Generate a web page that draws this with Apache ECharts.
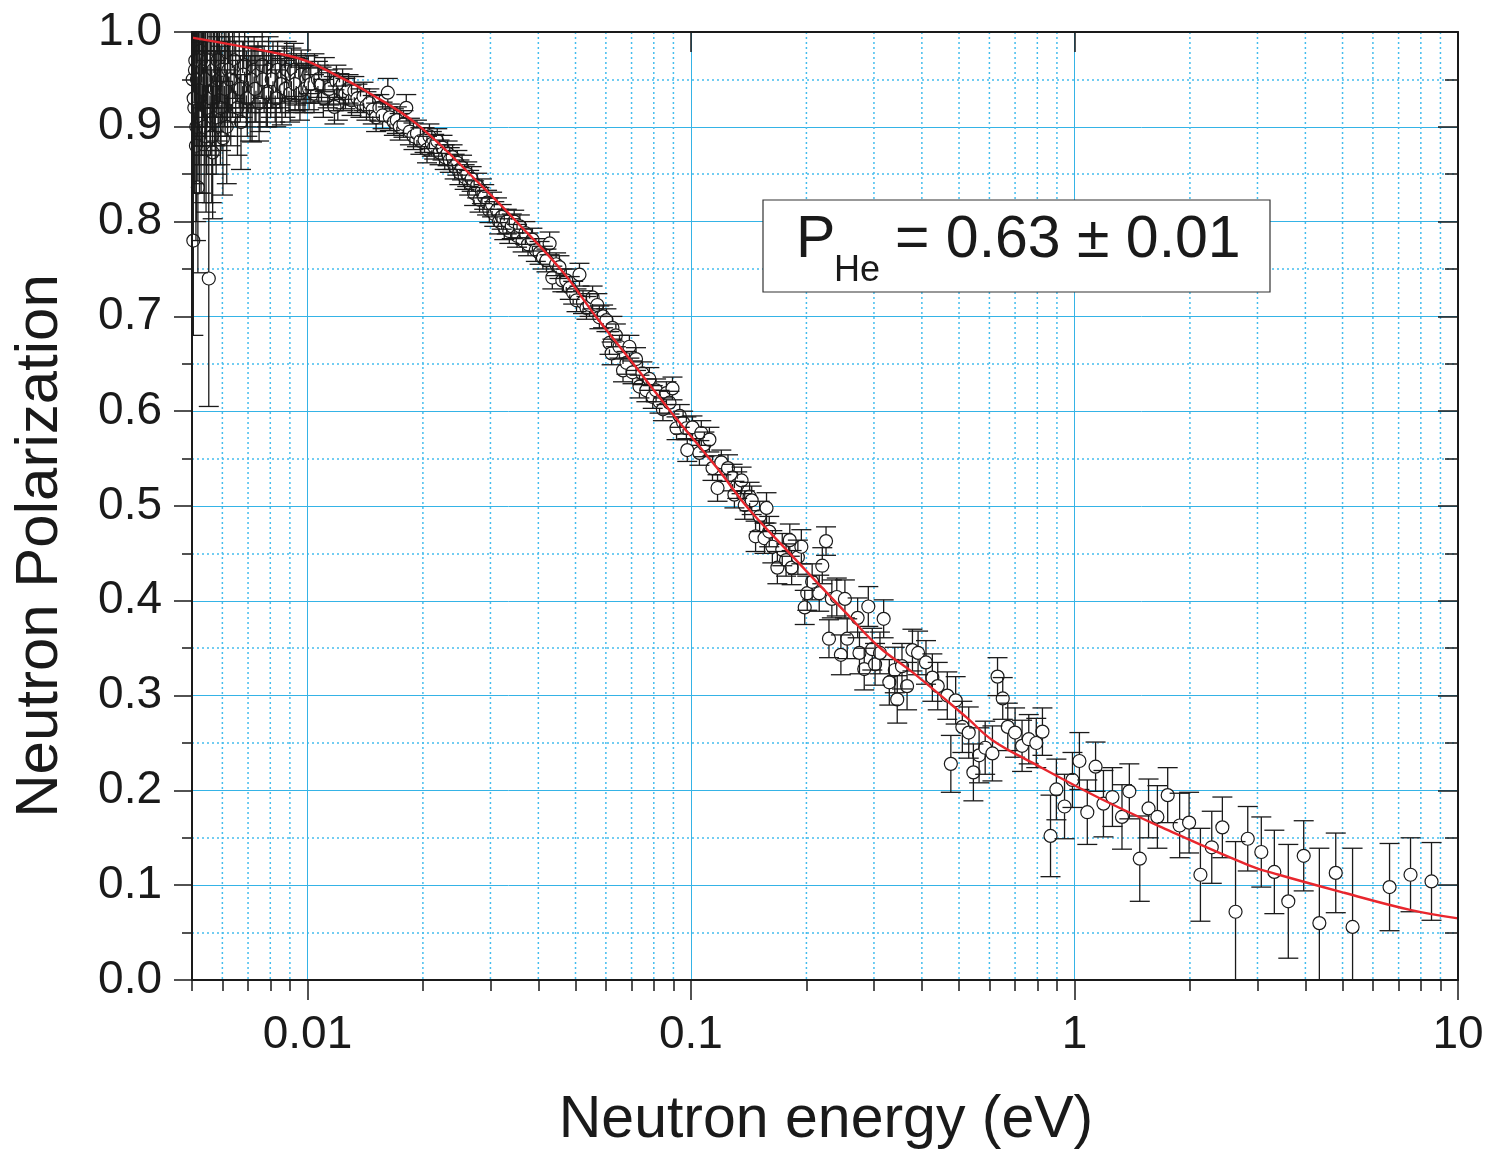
<!DOCTYPE html>
<html><head><meta charset="utf-8">
<script src="https://cdn.jsdelivr.net/npm/echarts@6/dist/echarts.min.js"></script>
<style>html,body{margin:0;padding:0;background:#fff}#c{width:1488px;height:1155px}</style>
</head><body><div id="c"></div>
<script>
// Neutron energy (eV)
const energy = [
0.00502,0.00504,0.00507,0.0051,0.00513,0.00516,0.00518,0.00521,0.00525,0.00528,0.00532,0.00536,0.0054,0.00544,0.00548,0.00553,0.00557,0.00561,0.00566,0.0057,
0.00575,0.0058,0.00585,0.0059,0.00595,0.00602,0.00607,0.00613,0.00619,0.00625,0.00631,0.00638,0.00644,0.0065,0.00657,0.00664,0.00671,0.00678,0.00686,0.00693,
0.00701,0.00709,0.00717,0.00726,0.00734,0.00743,0.00752,0.00762,0.00771,0.00781,0.00792,0.00802,0.00813,0.00824,0.00836,0.00847,0.00858,0.0087,0.00883,0.00895,
0.00908,0.00921,0.00935,0.00949,0.00963,0.00974,0.00992,
0.00505,0.00509,0.00512,0.00515,0.0052,0.00523,0.0053,0.00534,0.00538,0.00542,0.00546,0.0055,0.00559,0.00563,0.00568,0.00573,0.00578,0.00583,0.00588,0.00593,
0.00598,0.0061,0.00616,0.00622,0.00628,
0.00668,0.00682,0.00697,0.00713,0.0073,0.00748,0.00766,0.00786,0.00807,0.00829,0.00852,0.00876,0.00901,0.00928,0.00956,0.00985,
0.0101,0.0104,0.0107,0.011,0.0113,0.0117,0.012,0.0124,
0.01005,0.0102,0.01043,0.01065,0.01088,0.0111,0.01141,0.01176,0.0119,0.01212,0.01235,0.01256,0.0128,0.01303,0.01325,0.0135,0.01375,0.014,0.01425,0.0145,
0.0148,0.0151,0.0154,0.0157,0.0162,0.0164,0.0168,0.0171,0.0174,0.0178,0.0181,0.0185,0.0189,0.0193,0.0197,
0.0202,0.0205,0.0208,0.0211,0.0214,0.0218,0.0221,0.0225,0.0228,0.0232,0.0235,0.0239,0.0242,0.0246,0.0249,0.0253,0.0257,0.0261,0.0264,0.0268,
0.0272,0.0277,0.0281,0.0285,0.0289,0.0294,0.0298,0.0303,0.0307,0.0312,0.0316,0.0321,0.0326,0.0331,0.0336,0.0341,
0.0346,0.0352,0.0358,0.0364,0.037,0.0376,0.0386,0.0394,0.0403,0.0411,0.042,0.0428,0.0435,0.0445,0.0454,0.0462,0.0473,0.0483,0.0493,0.0503,
0.0512,0.0523,0.0534,0.0544,0.0554,0.057,0.0577,0.059,0.0602,0.0613,0.0621,0.0624,0.0637,0.0651,0.0665,0.0679,0.0691,0.0704,0.0719,0.0734,
0.0747,0.0765,0.0779,0.0795,0.0811,0.0828,0.0845,0.0863,0.0879,0.0895,0.0917,0.0935,0.0954,0.0973,0.0978,0.1009,
0.1052,0.1064,0.1084,0.1117,0.1138,0.1173,0.120,0.1249,0.1284,0.1298,0.132,0.1355,0.1381,0.1422,0.144,0.1474,0.151,0.1555,0.1574,0.160,
0.163,0.168,0.173,0.177,0.181,0.183,0.190,0.194,0.198,0.201,0.207,0.216,0.220,0.225,0.229,0.233,0.240,0.246,0.252,0.2555,
0.272,0.275,0.283,0.290,0.297,0.302,0.311,0.318,0.329,0.340,0.345,0.355,0.366,0.378,0.391,0.41,0.426,0.44,0.466,0.476,
0.49,0.51,0.53,0.545,0.564,0.585,0.611,0.63,0.65,0.67,0.70,0.73,0.76,0.795,0.825,
0.866,0.897,0.942,0.988,1.03,1.08,1.135,1.19,1.256,1.33,1.39,1.48,1.56,1.645,1.75,1.88,1.99,2.13,2.28,2.43,
2.63,2.83,3.07,3.32,3.61,3.96,4.35,4.80,5.31,6.63,7.52,8.53
];
// Neutron polarization
const polarization = [
0.95,0.78,0.92,0.97,0.90,0.96,0.836,0.94,0.98,0.91,0.95,0.97,0.93,0.89,0.96,0.74,0.94,0.97,0.873,0.95,
0.92,0.96,0.94,0.97,0.93,0.888,0.95,0.965,0.94,0.96,0.93,0.955,0.97,0.945,0.92,0.96,0.905,0.95,0.965,0.94,
0.955,0.93,0.934,0.96,0.945,0.955,0.935,0.965,0.95,0.94,0.96,0.945,0.955,0.94,0.96,0.95,0.937,0.955,0.96,0.945,
0.955,0.96,0.95,0.945,0.955,0.941,0.95,
0.93,0.96,0.88,0.95,0.97,0.91,0.94,0.96,0.90,0.95,0.92,0.97,0.93,0.89,0.96,0.94,0.91,0.97,0.95,0.92,
0.96,0.94,0.90,0.96,0.95,
0.94,0.955,0.93,0.95,0.94,0.925,0.95,0.935,0.95,0.93,0.945,0.94,0.935,0.945,0.935,0.94,
0.94,0.935,0.945,0.93,0.94,0.935,0.925,0.935,
0.955,0.945,0.958,0.95,0.945,0.955,0.94,0.921,0.948,0.94,0.945,0.935,0.94,0.928,0.938,0.93,0.925,0.932,0.922,0.925,
0.918,0.91,0.92,0.912,0.936,0.91,0.905,0.907,0.90,0.903,0.92,0.895,0.89,0.893,0.885,
0.886,0.876,0.89,0.882,0.879,0.885,0.873,0.878,0.868,0.872,0.865,0.868,0.858,0.862,0.852,0.857,0.847,0.85,0.841,0.845,
0.83,0.838,0.823,0.832,0.826,0.82,0.812,0.818,0.808,0.812,0.80,0.805,0.794,0.80,0.79,0.795,
0.80,0.785,0.795,0.78,0.788,0.776,0.781,0.77,0.767,0.762,0.759,0.777,0.741,0.755,0.752,0.738,0.738,0.73,0.725,0.717,
0.744,0.715,0.709,0.712,0.72,0.712,0.699,0.70,0.696,0.672,0.661,0.688,0.68,0.668,0.643,0.651,0.668,0.641,0.655,0.626,
0.64,0.622,0.634,0.615,0.622,0.61,0.602,0.619,0.609,0.624,0.582,0.595,0.588,0.582,0.559,0.583,
0.556,0.577,0.565,0.570,0.540,0.519,0.546,0.540,0.530,0.512,0.522,0.527,0.501,0.510,0.506,0.468,0.489,0.466,0.498,0.473,
0.457,0.435,0.454,0.443,0.464,0.435,0.446,0.457,0.393,0.408,0.420,0.408,0.437,0.463,0.360,0.402,0.404,0.343,0.402,0.360,
0.382,0.345,0.328,0.394,0.349,0.333,0.345,0.381,0.314,0.327,0.296,0.331,0.310,0.348,0.345,0.335,0.319,0.310,0.300,0.228,
0.295,0.267,0.261,0.219,0.237,0.245,0.239,0.320,0.297,0.267,0.261,0.247,0.254,0.250,0.262,
0.152,0.201,0.183,0.211,0.231,0.177,0.225,0.186,0.193,0.172,0.199,0.128,0.181,0.172,0.195,0.163,0.166,0.111,0.140,0.161,
0.072,0.149,0.135,0.114,0.083,0.131,0.060,0.113,0.056,0.098,0.111,0.104
];
// Error bar half-length
const errors = [
0.08,0.10,0.09,0.07,0.10,0.07,0.09,0.08,0.06,0.08,0.07,0.06,0.07,0.08,0.06,0.135,0.06,0.05,0.07,0.055,
0.06,0.05,0.055,0.045,0.055,0.06,0.05,0.045,0.05,0.045,0.05,0.045,0.04,0.045,0.05,0.04,0.05,0.04,0.04,0.04,
0.04,0.045,0.05,0.035,0.04,0.035,0.04,0.035,0.035,0.04,0.035,0.035,0.035,0.035,0.03,0.03,0.035,0.03,0.03,0.03,
0.028,0.028,0.027,0.027,0.026,0.026,0.025,
0.09,0.08,0.10,0.07,0.07,0.08,0.07,0.06,0.08,0.06,0.07,0.05,0.06,0.07,0.05,0.06,0.06,0.05,0.05,0.06,
0.05,0.05,0.06,0.045,0.045,
0.035,0.035,0.04,0.035,0.035,0.04,0.03,0.035,0.03,0.03,0.03,0.03,0.03,0.028,0.028,0.025,
0.022,0.02,0.02,0.02,0.02,0.018,0.018,0.018,
0.02,0.02,0.019,0.019,0.018,0.018,0.017,0.018,0.017,0.016,0.016,0.016,0.015,0.016,0.015,0.015,0.015,0.015,0.015,0.015,
0.015,0.015,0.014,0.014,0.015,0.014,0.014,0.014,0.014,0.014,0.014,0.014,0.014,0.014,0.014,
0.013,0.014,0.013,0.013,0.013,0.013,0.013,0.013,0.013,0.013,0.013,0.013,0.013,0.013,0.013,0.013,0.013,0.013,0.013,0.013,
0.013,0.013,0.013,0.013,0.013,0.013,0.013,0.013,0.013,0.013,0.013,0.013,0.013,0.013,0.013,0.013,
0.012,0.012,0.012,0.012,0.012,0.012,0.012,0.012,0.012,0.012,0.012,0.012,0.012,0.012,0.012,0.012,0.012,0.012,0.012,0.012,
0.012,0.012,0.012,0.012,0.012,0.012,0.012,0.012,0.012,0.012,0.012,0.012,0.012,0.012,0.012,0.012,0.012,0.012,0.012,0.012,
0.012,0.012,0.012,0.012,0.012,0.012,0.012,0.012,0.012,0.012,0.012,0.012,0.012,0.012,0.012,0.012,
0.013,0.013,0.013,0.013,0.013,0.014,0.013,0.014,0.014,0.014,0.014,0.014,0.015,0.015,0.015,0.016,0.016,0.016,0.016,0.016,
0.017,0.017,0.017,0.017,0.017,0.018,0.018,0.018,0.018,0.018,0.019,0.019,0.019,0.015,0.02,0.02,0.02,0.021,0.02,0.021,
0.021,0.022,0.022,0.021,0.022,0.022,0.022,0.02,0.024,0.024,0.025,0.024,0.025,0.022,0.023,0.023,0.025,0.025,0.025,0.030,
0.025,0.027,0.027,0.030,0.029,0.028,0.029,0.020,0.022,0.025,0.026,0.027,0.026,0.026,0.025,
0.043,0.032,0.034,0.029,0.030,0.034,0.026,0.035,0.031,0.034,0.029,0.045,0.031,0.033,0.029,0.034,0.032,0.049,0.038,0.032,
0.074,0.034,0.037,0.044,0.060,0.037,0.079,0.042,0.083,0.046,0.039,0.041
];
// Fitted curve
const fitEnergy = [0.005,0.0087,0.01,0.0118,0.0143,0.0194,0.0289,0.0347,0.0463,0.0567,0.0704,0.0888,0.117,0.140,0.181,0.254,0.310,0.380,0.523,0.611,0.778,1.16,1.69,2.85,3.41,5.05,7.5,10];
const fitPolarization = [0.994,0.976,0.969,0.955,0.937,0.902,0.835,0.802,0.747,0.699,0.651,0.599,0.540,0.499,0.450,0.387,0.351,0.324,0.277,0.253,0.229,0.192,0.161,0.121,0.111,0.092,0.074,0.065];

const xMajorTicks = [0.01, 0.1, 1, 10];
const xTickLabels = ['0.01', '0.1', '1', '10'];
const xMinorTicks = [0.005,0.006,0.007,0.008,0.009,0.02,0.03,0.04,0.05,0.06,0.07,0.08,0.09,0.2,0.3,0.4,0.5,0.6,0.7,0.8,0.9,2,3,4,5,6,7,8,9];
const xMinorGrid = xMinorTicks.filter(v => v > 0.005);

const FONT = "'Liberation Sans', Arial, Helvetica, sans-serif";
const GRID_SOLID = '#35b3e6';
const GRID_DOT = '#45bdee';
const INK = '#1a1a1a';

const chart = echarts.init(document.getElementById('c'), null, {renderer: 'canvas'});

function xAxisBase(extra) {
  return Object.assign({
    type: 'log', logBase: 10, min: 0.005, max: 10, gridIndex: 0,
    axisLine: {show: false}, axisTick: {show: false}, axisLabel: {show: false},
    splitLine: {show: false}, minorTick: {show: false}, minorSplitLine: {show: false}
  }, extra);
}
function yAxisBase(extra) {
  return Object.assign({
    type: 'value', min: 0, max: 1, interval: 0.1, gridIndex: 0,
    axisLine: {show: false}, axisTick: {show: false}, axisLabel: {show: false},
    splitLine: {show: false}, minorTick: {show: false, splitNumber: 2}, minorSplitLine: {show: false}
  }, extra);
}
const lineBlack = {show: true, onZero: false, lineStyle: {color: INK, width: 2}};

const R = 6.5, CAP = 10;
function renderErr(params, api) {
  const x = api.value(0), y = api.value(1), e = api.value(2);
  const c = api.coord([x, y]);
  const t = api.coord([x, y + e]);
  const b = api.coord([x, y - e]);
  const st = {stroke: INK, lineWidth: 1.3};
  const ch = [
    {type: 'line', shape: {x1: t[0] - CAP, y1: t[1], x2: t[0] + CAP, y2: t[1]}, style: st},
    {type: 'line', shape: {x1: b[0] - CAP, y1: b[1], x2: b[0] + CAP, y2: b[1]}, style: st}
  ];
  if (c[1] - t[1] > R) ch.push({type: 'line', shape: {x1: c[0], y1: t[1], x2: c[0], y2: c[1] - R}, style: st});
  if (b[1] - c[1] > R) ch.push({type: 'line', shape: {x1: c[0], y1: c[1] + R, x2: c[0], y2: b[1]}, style: st});
  return {type: 'group', children: ch};
}
function renderMinorX(params, api) {
  const cs = params.coordSys;
  const p = api.coord([api.value(0), 0.5]);
  return {type: 'line', shape: {x1: p[0], y1: cs.y, x2: p[0], y2: cs.y + cs.height},
    style: {stroke: GRID_DOT, lineWidth: 1.5, lineDash: [2, 3]}};
}

const option = {
  animation: false,
  backgroundColor: '#fff',
  grid: {left: 192, right: 30, top: 32, bottom: 175, containLabel: false},
  xAxis: [
    xAxisBase({position: 'bottom', z: 0,
      splitLine: {show: true, showMinLine: false, showMaxLine: false, lineStyle: {color: GRID_SOLID, width: 1}},
      axisLabel: {show: true, customValues: xMajorTicks, showMinLabel: true, showMaxLabel: true, margin: 32,
        fontFamily: FONT, fontSize: 46, color: INK,
        formatter: v => { const i = xMajorTicks.findIndex(m => Math.abs(m - v) / m < 1e-6); return i >= 0 ? xTickLabels[i] : ''; }}
    }),
    xAxisBase({position: 'bottom', z: 10, axisLine: lineBlack,
      axisTick: {show: true, customValues: xMajorTicks, length: 20, inside: false, lineStyle: {color: INK, width: 1.5}}}),
    xAxisBase({position: 'bottom', z: 10,
      axisTick: {show: true, customValues: xMinorTicks, length: 11, inside: false, lineStyle: {color: INK, width: 1.5}}}),
    xAxisBase({position: 'top', z: 10, axisLine: lineBlack,
      axisTick: {show: true, customValues: xMajorTicks, length: 20, inside: true, lineStyle: {color: INK, width: 1.5}}}),
    xAxisBase({position: 'top', z: 10,
      axisTick: {show: true, customValues: xMinorTicks, length: 11, inside: true, lineStyle: {color: INK, width: 1.5}}})
  ],
  yAxis: [
    yAxisBase({position: 'left', z: 0,
      splitLine: {show: true, showMinLine: false, showMaxLine: false, lineStyle: {color: GRID_SOLID, width: 1}},
      minorSplitLine: {show: true, lineStyle: {color: GRID_DOT, width: 1.5, type: [2, 3]}},
      axisLabel: {show: true, margin: 30, fontFamily: FONT, fontSize: 46, color: INK, formatter: v => v.toFixed(1)}
    }),
    yAxisBase({position: 'left', z: 10, axisLine: lineBlack,
      axisTick: {show: true, length: 18, inside: false, lineStyle: {color: INK, width: 1.5}},
      minorTick: {show: true, splitNumber: 2, length: 10, lineStyle: {color: INK, width: 1.5}}}),
    yAxisBase({position: 'right', z: 10, axisLine: lineBlack,
      axisTick: {show: true, length: 20, inside: true, lineStyle: {color: INK, width: 1.5}},
      minorTick: {show: true, splitNumber: 2, length: 13, lineStyle: {color: INK, width: 1.5}}})
  ],
  series: [
    {type: 'custom', name: 'minorGrid', xAxisIndex: 0, yAxisIndex: 0, z: 1, silent: true,
      renderItem: renderMinorX, data: xMinorGrid.map(v => [v, 0.5])},
    {type: 'scatter', name: 'data', xAxisIndex: 0, yAxisIndex: 0, z: 3, silent: true,
      symbol: 'circle', symbolSize: 13,
      itemStyle: {color: '#fff', borderColor: INK, borderWidth: 1.2, opacity: 1},
      data: energy.map((e, i) => [e, polarization[i]])},
    {type: 'custom', name: 'errors', xAxisIndex: 0, yAxisIndex: 0, z: 4, silent: true, clip: true,
      renderItem: renderErr, data: energy.map((e, i) => [e, polarization[i], errors[i]])},
    {type: 'line', name: 'fit', xAxisIndex: 0, yAxisIndex: 0, z: 5, silent: true, smooth: 0.4,
      showSymbol: false, symbol: 'none', lineStyle: {color: '#e8262d', width: 2.4},
      data: fitEnergy.map((e, i) => [e, fitPolarization[i]])}
  ],
  graphic: [
    {type: 'rect', z: 100, shape: {x: 763, y: 200, width: 507, height: 92},
      style: {fill: '#fff', stroke: '#333', lineWidth: 1.2}},
    {type: 'text', z: 101, style: {text: 'P', x: 796, y: 241, font: '59px ' + FONT, fill: INK, align: 'left', verticalAlign: 'middle'}},
    {type: 'text', z: 101, style: {text: 'He', x: 834, y: 271, font: '36px ' + FONT, fill: INK, align: 'left', verticalAlign: 'middle'}},
    {type: 'text', z: 101, style: {text: '= 0.63 ± 0.01', x: 895, y: 241, font: '59px ' + FONT, fill: INK, align: 'left', verticalAlign: 'middle'}},
    {type: 'text', z: 101, style: {text: 'Neutron energy (eV)', x: 826, y: 1121, font: '59px ' + FONT, fill: INK, align: 'center', verticalAlign: 'middle'}},
    {type: 'text', z: 101, rotation: Math.PI / 2, x: 40, y: 546,
      style: {text: 'Neutron Polarization', x: 0, y: 0, font: '60px ' + FONT, fill: INK, align: 'center', verticalAlign: 'middle'}}
  ]
};
chart.setOption(option);
</script>
</body></html>
